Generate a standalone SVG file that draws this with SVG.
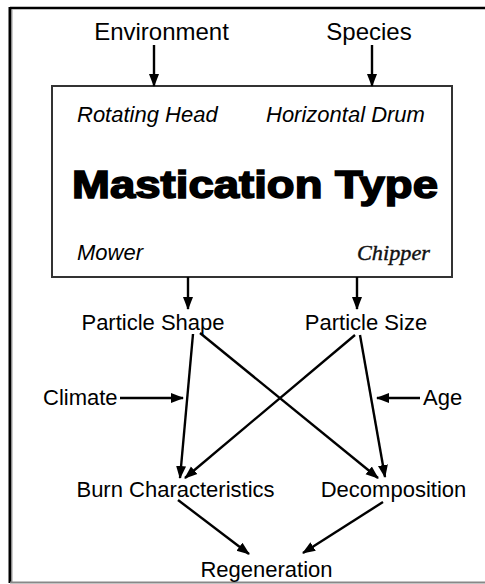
<svg xmlns="http://www.w3.org/2000/svg" width="485" height="584" viewBox="0 0 485 584">
<style>
.t{font-family:"Liberation Sans",Arial,sans-serif;font-size:22px;fill:#000}
.big{font-size:24px}
.it{font-style:italic}
.ser{font-family:"Liberation Serif","Times New Roman",serif;font-style:italic;font-size:22px;fill:#111;stroke:#111;stroke-width:0.4}
.title{font-family:"Liberation Sans",Arial,sans-serif;font-weight:bold;font-size:39px;fill:#000;stroke:#000;stroke-width:1.6}
.c{stroke:#000;stroke-width:2.4;fill:none;marker-end:url(#ah)}
</style>
<defs>
<marker id="ah" markerUnits="userSpaceOnUse" markerWidth="14" markerHeight="12" refX="12" refY="5" orient="auto" viewBox="0 0 14 10">
<path d="M0,0 L13,5 L0,10 Z" fill="#000"/>
</marker>
</defs>
<rect width="485" height="584" fill="#fff"/>
<g id="frame">
<line x1="10" y1="8" x2="485" y2="8" stroke="#000" stroke-width="2.5"/>
<line x1="10" y1="7" x2="10" y2="583" stroke="#000" stroke-width="3"/>
<line x1="12" y1="9.5" x2="12" y2="583" stroke="#999" stroke-width="1"/>
<line x1="10" y1="582.5" x2="485" y2="582.5" stroke="#888" stroke-width="2"/>
</g>
<g id="environment"><text class="t big" x="161.5" y="40" text-anchor="middle">Environment</text></g>
<g id="species"><text class="t big" x="369" y="40" text-anchor="middle">Species</text></g>
<g id="mastication">
<rect x="52" y="86" width="400" height="191" fill="#fff" stroke="#333" stroke-width="2"/>
<text class="t it" x="77" y="122">Rotating Head</text>
<text class="t it" x="266" y="122">Horizontal Drum</text>
<text class="title" x="72" y="198" textLength="366" lengthAdjust="spacingAndGlyphs">Mastication Type</text>
<text class="t it" x="77" y="260">Mower</text>
<text class="ser" x="357" y="260" textLength="73" lengthAdjust="spacingAndGlyphs">Chipper</text>
</g>
<g id="particle-shape"><text class="t" x="153" y="330" text-anchor="middle">Particle Shape</text></g>
<g id="particle-size"><text class="t" x="366" y="330" text-anchor="middle">Particle Size</text></g>
<g id="climate"><text class="t" x="43" y="405">Climate</text></g>
<g id="age"><text class="t" x="423" y="405">Age</text></g>
<g id="burn"><text class="t" x="175.5" y="497" text-anchor="middle">Burn Characteristics</text></g>
<g id="decomposition"><text class="t" x="393.5" y="497" text-anchor="middle">Decomposition</text></g>
<g id="regeneration"><text class="t" x="266.5" y="577" text-anchor="middle">Regeneration</text></g>
<g id="connectors">
<line class="c" x1="154" y1="45" x2="154" y2="86"/>
<line class="c" x1="372" y1="45" x2="372" y2="86"/>
<line class="c" x1="188" y1="277" x2="188" y2="309"/>
<line class="c" x1="357" y1="277" x2="357" y2="309"/>
<line class="c" x1="193" y1="334" x2="180" y2="478"/>
<line class="c" x1="200" y1="333" x2="378" y2="478"/>
<line class="c" x1="355" y1="335" x2="185" y2="478"/>
<line class="c" x1="360" y1="335" x2="385" y2="477"/>
<line class="c" x1="120" y1="398" x2="183" y2="398"/>
<line class="c" x1="420" y1="398" x2="377" y2="398"/>
<line class="c" x1="178" y1="500" x2="249" y2="554"/>
<line class="c" x1="383" y1="502" x2="303" y2="553"/>
</g>
</svg>
